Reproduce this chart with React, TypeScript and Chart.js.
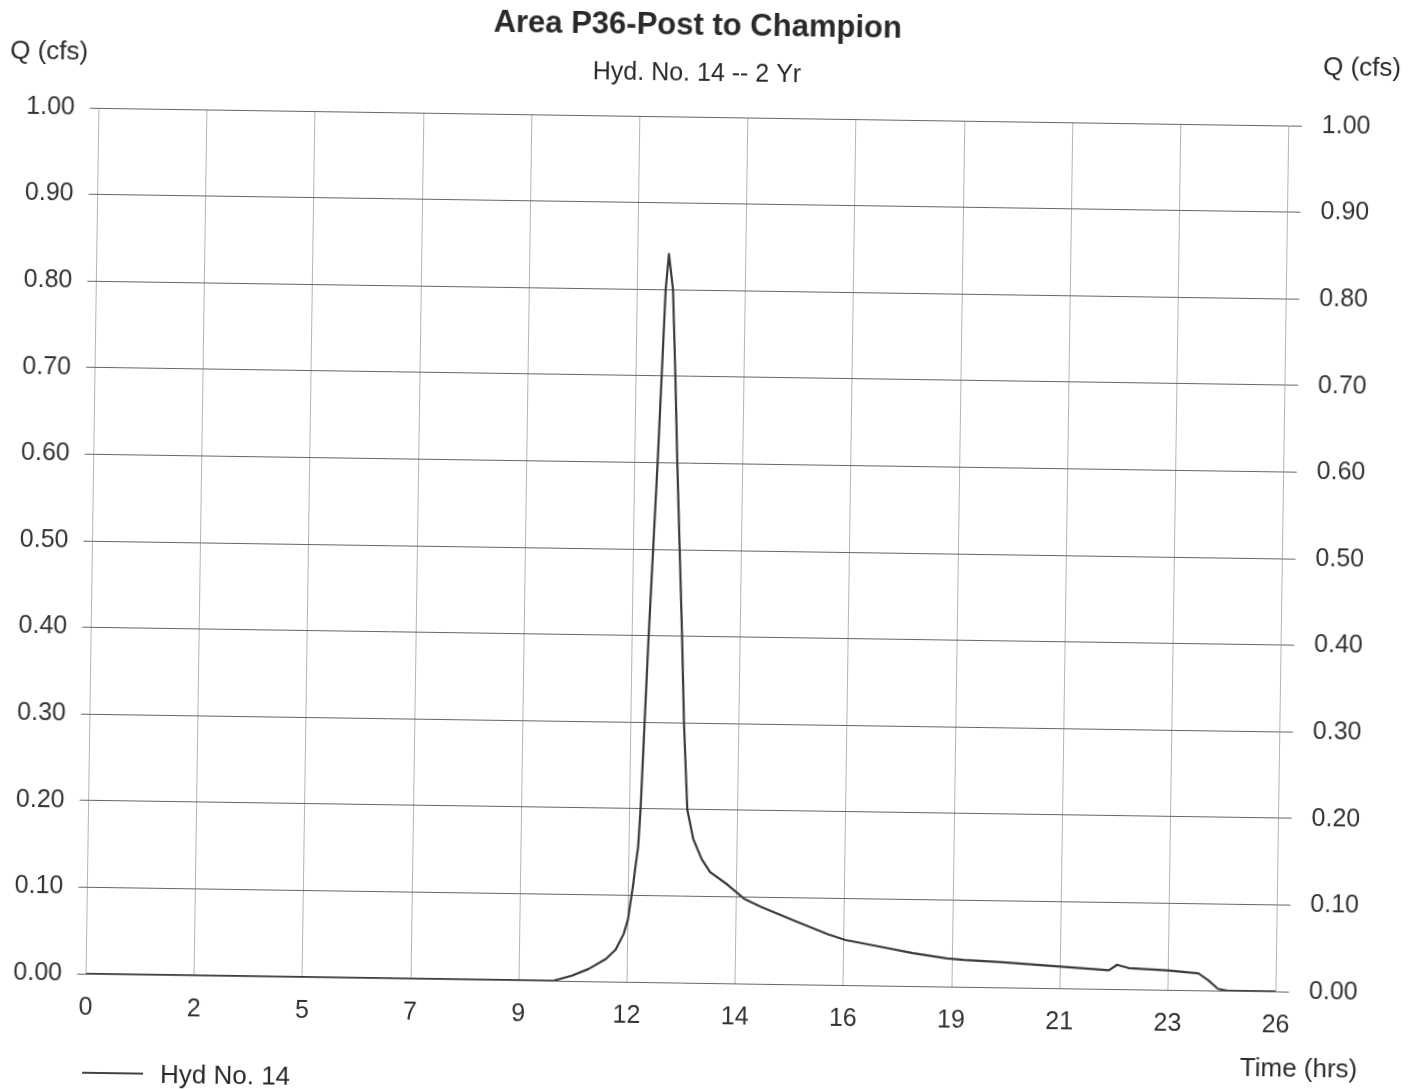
import React, { useEffect, useRef } from "react";
import { Chart, registerables } from "chart.js";

Chart.register(...registerables);

// ---- data ----
const xTickLabels = ["0", "2", "5", "7", "9", "12", "14", "16", "19", "21", "23", "26"];
const X_MAX = 26;

const timeHrs = [
  0, 10.21, 10.61, 10.97, 11.35, 11.56, 11.73, 11.82, 11.87, 11.92, 11.96, 12.02, 12.06,
  12.12, 12.18, 12.25, 12.32, 12.38, 12.44, 12.5, 12.6, 12.68, 12.75, 12.83, 12.91, 12.98,
  13.08, 13.22, 13.41, 13.6, 13.98, 14.35, 14.72, 15.47, 16.21, 16.58, 17.32, 18.06, 18.8,
  19.17, 20.02, 21.1, 22.19, 22.34, 22.52, 22.77, 23.64, 24.3, 24.51, 24.73, 24.94, 26,
];
const flowCfs = [
  0, 0, 0.006, 0.014, 0.026, 0.037, 0.055, 0.072, 0.092, 0.111, 0.13, 0.157, 0.2,
  0.3, 0.4, 0.5, 0.6, 0.7, 0.8, 0.841, 0.8, 0.7, 0.6, 0.5, 0.4, 0.3,
  0.2, 0.166, 0.143, 0.128, 0.114, 0.098, 0.089, 0.073, 0.058, 0.052, 0.045, 0.038, 0.0325,
  0.031, 0.029, 0.0255, 0.022, 0.0215, 0.028, 0.0245, 0.0223, 0.0195, 0.012, 0.002, 0, 0,
];

const Y_MIN = 0;
const Y_MAX = 1;
const Y_STEP = 0.1;

const titleText = "Area P36-Post to Champion";
const subtitleText = "Hyd. No. 14 -- 2 Yr";
const yAxisTitle = "Q (cfs)";
const xAxisTitle = "Time (hrs)";
const seriesName = "Hyd No. 14";

const FONT = "'Liberation Sans', Arial, Helvetica, sans-serif";
const W = 1422;
const H = 1120;

const textPlugin = {
  id: "hydTexts",
  afterDraw(chart: any) {
    const { ctx } = chart;
    ctx.save();
    ctx.fillStyle = "#2a2a2a";
    ctx.textBaseline = "middle";
    ctx.textAlign = "center";
    ctx.font = `bold 31px ${FONT}`;
    ctx.fillText(titleText, 690, 26);
    ctx.font = `25px ${FONT}`;
    ctx.fillText(subtitleText, 690, 74);
    ctx.textAlign = "left";
    ctx.font = `26px ${FONT}`;
    ctx.fillText(yAxisTitle, 3, 62);
    ctx.fillText(yAxisTitle, 1316, 59);
    ctx.textAlign = "right";
    ctx.fillText(xAxisTitle, 1365, 1061);
    // legend
    ctx.strokeStyle = "#444";
    ctx.lineWidth = 2;
    ctx.beginPath();
    ctx.moveTo(90, 1082);
    ctx.lineTo(151, 1082);
    ctx.stroke();
    ctx.textAlign = "left";
    ctx.fillText(seriesName, 168, 1084);
    ctx.restore();
  },
};

export default function App() {
  const ref = useRef<HTMLCanvasElement | null>(null);

  useEffect(() => {
    if (!ref.current) return;
    Chart.defaults.font.family = FONT;
    const tickFont = { size: 25, family: FONT };
    const chart = new Chart(ref.current, {
      type: "line",
      data: {
        datasets: [
          {
            label: seriesName,
            data: timeHrs.map((t, i) => ({ x: t, y: flowCfs[i] })),
            borderColor: "#3a3a3a",
            borderWidth: 2.2,
            borderJoinStyle: "round",
            pointRadius: 0,
            tension: 0,
            fill: false,
            yAxisID: "y",
          },
        ],
      },
      options: {
        responsive: false,
        animation: false,
        devicePixelRatio: 1,
        layout: { padding: { top: 117, left: 0, right: 0, bottom: 0 } },
        plugins: {
          legend: { display: false },
          title: { display: false },
          tooltip: { enabled: false },
        },
        scales: {
          x: {
            type: "linear",
            min: 0,
            max: X_MAX,
            afterBuildTicks: (s: any) => {
              s.ticks = xTickLabels.map((_, i) => ({ value: (i * X_MAX) / (xTickLabels.length - 1) }));
            },
            afterFit: (s: any) => {
              s.height = H - 983;
            },
            ticks: {
              autoSkip: false,
              maxRotation: 0,
              minRotation: 0,
              padding: 19,
              font: tickFont,
              color: "#333",
              callback: (_v: any, i: number) => xTickLabels[i],
            },
            grid: { color: "#b4b4b4", lineWidth: 1, drawTicks: false },
            border: { display: false },
          },
          y: {
            position: "left",
            min: Y_MIN,
            max: Y_MAX,
            afterFit: (s: any) => {
              s.width = 92.5;
            },
            ticks: {
              stepSize: Y_STEP,
              padding: 15,
              font: tickFont,
              color: "#333",
              callback: (v: any) => Number(v).toFixed(2),
            },
            grid: { color: "#666", lineWidth: 1, tickLength: 9 },
            border: { display: false },
          },
          y2: {
            position: "right",
            min: Y_MIN,
            max: Y_MAX,
            afterFit: (s: any) => {
              s.width = W - 1282.6;
            },
            ticks: {
              stepSize: Y_STEP,
              padding: 20,
              font: tickFont,
              color: "#333",
              callback: (v: any) => Number(v).toFixed(2),
            },
            grid: { color: "#666", lineWidth: 1, tickLength: 13, drawOnChartArea: false },
            border: { display: false },
          },
        },
      } as any,
      plugins: [textPlugin],
    });
    return () => chart.destroy();
  }, []);

  return (
    <div
      style={{
        position: "fixed",
        left: 0,
        top: 0,
        width: W,
        height: 1089,
        overflow: "hidden",
        background: "#fff",
      }}
    >
      <canvas
        ref={ref}
        width={W}
        height={H}
        style={{
          display: "block",
          width: W,
          height: H,
          transform: "rotate(0.85deg)",
          transformOrigin: "711px 544.5px",
        }}
      />
    </div>
  );
}
